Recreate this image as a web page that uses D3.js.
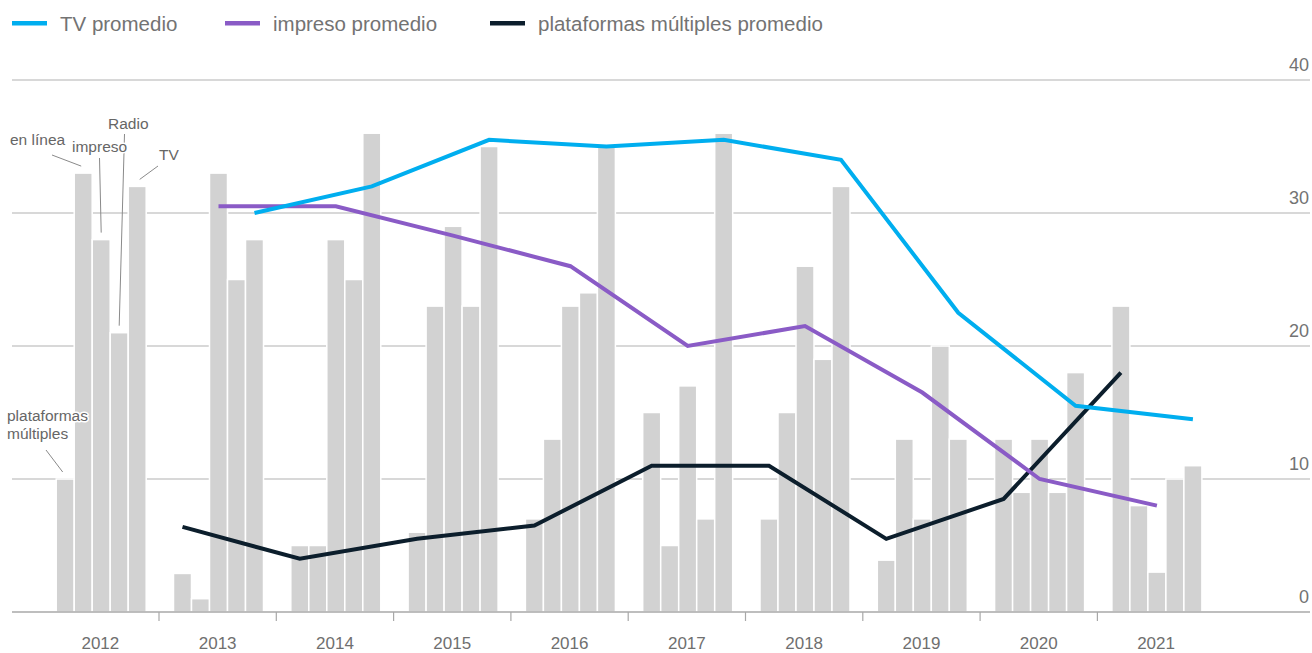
<!DOCTYPE html>
<html>
<head>
<meta charset="utf-8">
<script src="https://cdn.jsdelivr.net/npm/d3@7"></script>
<style>
  html, body { margin: 0; padding: 0; background: #fff; }
  svg { display: block; font-family: "Liberation Sans", Arial, sans-serif; }
</style>
</head>
<body>
<svg id="chart" width="1312" height="653"></svg>
<script>
// ---------- data ----------
const years = ["2012","2013","2014","2015","2016","2017","2018","2019","2020","2021"];
const seriesKeys = ["plataformas múltiples","en línea","impreso","Radio","TV"];

const plataformas = [10, 2.9, 5, 6, 7, 15, 7, 3.9, 13, 23];
const enLinea     = [33, 1, 5, 23, 13, 5, 15, 13, 9, 8];
const impreso     = [28, 33, 28, 29, 23, 17, 26, 7, 13, 3];
const radio       = [21, 25, 25, 23, 24, 7, 19, 20, 9, 10];
const tv          = [32, 28, 36, 35, 35, 36, 32, 13, 18, 11];

const lineYears = ["2013","2014","2015","2016","2017","2018","2019","2020","2021"];
const tvPromedio          = [30, 32, 35.5, 35, 35.5, 34, 22.5, 15.5, 14.5];
const impresoPromedio     = [30.5, 30.5, 28.3, 26, 20, 21.5, 16.5, 10, 8];
const plataformasPromedio = [6.4, 4, 5.5, 6.5, 11, 11, 5.5, 8.5, 18];

const yTicks = [0, 10, 20, 30, 40];

const legendItems = [
  {label: "TV promedio", color: "#00aeef"},
  {label: "impreso promedio", color: "#8a5bc6"},
  {label: "plataformas múltiples promedio", color: "#0c1e2c"}
];

// ---------- layout ----------
const svg = d3.select("#chart");
const x = d3.scaleBand().domain(years).range([41.7, 1214.7]).paddingInner(0).paddingOuter(0);
const groupOffset = 14.5;
const xs = d3.scaleBand().domain(seriesKeys).range([0, 90]);
const y = d3.scaleLinear().domain([0, 40]).range([612, 80]);

const barSeries = [plataformas, enLinea, impreso, radio, tv];

// gridlines
svg.append("g").selectAll("line").data(yTicks.filter(d => d > 0)).join("line")
  .attr("x1", 12).attr("x2", 1310)
  .attr("y1", d => y(d)).attr("y2", d => y(d))
  .attr("stroke", "#b2b2b2").attr("stroke-width", 1.1);

// right labels
svg.append("g").selectAll("text").data(yTicks).join("text")
  .attr("x", 1309).attr("y", d => y(d) - 9.5)
  .attr("text-anchor", "end")
  .attr("font-size", 18).attr("fill", "#737373")
  .text(d => d);

// bars
const barData = [];
years.forEach((yr, i) => {
  seriesKeys.forEach((k, j) => barData.push({year: yr, key: k, value: barSeries[j][i]}));
});
svg.append("g").selectAll("rect").data(barData).join("rect")
  .attr("x", d => x(d.year) + groupOffset + xs(d.key))
  .attr("width", xs.bandwidth())
  .attr("y", d => y(d.value))
  .attr("height", d => y(0) - y(d.value))
  .attr("fill", "#d2d2d2")
  .attr("stroke", "#fff").attr("stroke-width", 1.5);

// axis line
svg.append("line").attr("x1", 12).attr("x2", 1310)
  .attr("y1", y(0)).attr("y2", y(0))
  .attr("stroke", "#a8a8a8").attr("stroke-width", 1.5);

// ticks at year boundaries
svg.append("g").selectAll("line").data(years.slice(1)).join("line")
  .attr("x1", d => x(d)).attr("x2", d => x(d))
  .attr("y1", y(0)).attr("y2", y(0) + 9)
  .attr("stroke", "#a8a8a8").attr("stroke-width", 1.2);

// year labels
svg.append("g").selectAll("text").data(years).join("text")
  .attr("x", d => x(d) + x.bandwidth() / 2)
  .attr("y", 649)
  .attr("text-anchor", "middle")
  .attr("font-size", 17).attr("fill", "#6f6f6f")
  .text(d => d);

// lines
function drawLine(values, key, color) {
  const pts = lineYears.map((yr, i) => [x(yr) + groupOffset + xs(key) + xs.bandwidth() / 2, y(values[i])]);
  svg.append("path")
    .attr("d", d3.line()(pts))
    .attr("fill", "none")
    .attr("stroke", color)
    .attr("stroke-width", 4)
    .attr("stroke-linejoin", "miter");
}
drawLine(plataformasPromedio, "plataformas múltiples", legendItems[2].color);
drawLine(impresoPromedio, "impreso", legendItems[1].color);
drawLine(tvPromedio, "TV", legendItems[0].color);

// annotations for 2012 bars
const ann = [
  {key: "en línea", lines: ["en línea"], tx: 10, ty: 145, x1: 52, y1: 155, dx: -2},
  {key: "Radio", lines: ["Radio"], tx: 108, ty: 129, x1: 124.5, y1: 134, dx: 0},
  {key: "impreso", lines: ["impreso"], tx: 72, ty: 152, x1: 99.5, y1: 158, dx: 0},
  {key: "TV", lines: ["TV"], tx: 159, ty: 160, x1: 158, y1: 166, dx: 2.5},
  {key: "plataformas múltiples", lines: ["plataformas", "múltiples"], tx: 7, ty: 421, x1: 46, y1: 450, dx: -2.5}
];
const g2012 = years[0];
const annG = svg.append("g");
ann.forEach(a => {
  const idx = seriesKeys.indexOf(a.key);
  const bx = x(g2012) + groupOffset + xs(a.key) + xs.bandwidth() / 2 + a.dx;
  const by = y(barSeries[idx][0]) - 7;
  annG.append("line").attr("x1", a.x1).attr("y1", a.y1).attr("x2", bx).attr("y2", by)
    .attr("stroke", "#8a8a8a").attr("stroke-width", 1);
});
ann.forEach(a => {
  const t = annG.append("text").attr("x", a.tx).attr("y", a.ty)
    .attr("font-size", 15.5).attr("fill", "#666")
    .attr("stroke", "#fff").attr("stroke-width", 3).attr("paint-order", "stroke")
    .attr("stroke-linejoin", "round");
  a.lines.forEach((l, i) => t.append("tspan").attr("x", a.tx).attr("dy", i === 0 ? 0 : 18).text(l));
});

// legend
const legX = [12, 225, 490];
const leg = svg.append("g");
legendItems.forEach((d, i) => {
  leg.append("rect").attr("x", legX[i]).attr("y", 21).attr("width", 35).attr("height", 4.5).attr("fill", d.color);
  leg.append("text").attr("x", legX[i] + 48).attr("y", 31)
    .attr("font-size", 20.5).attr("fill", "#737373").text(d.label);
});
</script>
</body>
</html>
